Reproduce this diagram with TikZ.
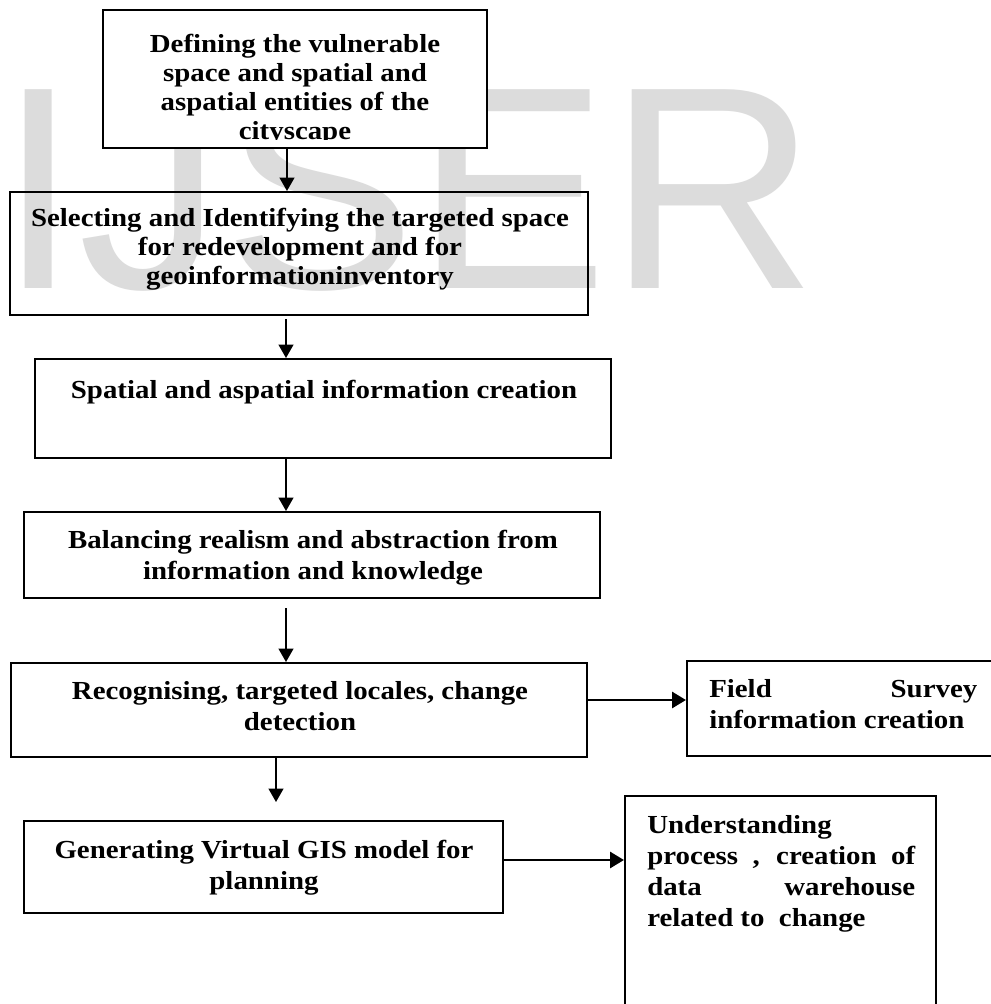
\documentclass[tikz,border=0pt]{standalone}
\usepackage{fontspec}
\newfontfamily\dfont{Liberation Serif}[FakeStretch=1.11]
\newfontfamily\wmfont{Liberation Sans}
\usetikzlibrary{fit,calc,arrows.meta}
\definecolor{wmgray}{HTML}{DCDCDC}
\begin{document}
\begin{tikzpicture}[x=0.75pt,y=-0.75pt,
  box/.style={draw, line width=1.5pt, inner sep=0pt},
  txt/.style={inner sep=0pt, font=\dfont\bfseries\fontsize{19.5}{21.75}\selectfont},
  wide/.style={font=\dfont\bfseries\fontsize{19.5}{23.25}\selectfont},
  arr/.style={line width=1.5pt, -{Triangle[length=10pt,width=11pt]}},
  harr/.style={line width=2.2pt, -{Triangle[length=10.5pt,width=12pt]}}]
\useasboundingbox (0,0) rectangle (991,1004);
\fill[white] (0,0) rectangle (991,1004);
% watermark
\node[anchor=base west, inner sep=0pt, text=wmgray,
      font=\wmfont\fontsize{216.75}{216.75}\selectfont] (wm) at (-2,288) {IJSER};
% boxes
\node[box, fill=white, fit={(103,10) (487,148)}] (b1) {};
\node[box, fit={(10,192) (588,315)}] (b2) {};
\node[box, fit={(35,359) (611,458)}] (b3) {};
\node[box, fit={(24,512) (600,598)}] (b4) {};
\node[box, fit={(11,663) (587,757)}] (b5) {};
\node[box, fit={(687,661) (1000,756)}] (b6) {};
\node[box, fit={(24,821) (503,913)}] (b7) {};
\node[box, fit={(625,796) (936,1012)}] (b8) {};
% texts
\begin{scope}
\clip (b1.north west) rectangle ($(b1.south east)+(0,-10)$);
\node[txt, align=center, anchor=north] (t1) at (295,34)
  {Defining the vulnerable\\space and spatial and\\aspatial entities of the\\cityscape};
\end{scope}
\node[txt, align=center, anchor=north] (t2) at (300,208)
  {Selecting and Identifying the targeted space\\for redevelopment and for\\geoinformationinventory};
\node[txt, align=center, anchor=north] (t3) at (324,380)
  {Spatial and aspatial information creation};
\node[txt, wide, align=center, anchor=north] (t4) at (313,530)
  {Balancing realism and abstraction from\\information and knowledge};
\node[txt, wide, align=center, anchor=north] (t5) at (300,681)
  {Recognising, targeted locales, change\\detection};
\node[txt, wide, align=left, anchor=north west] (t6) at (709,679)
  {\makebox[201pt][s]{Field Survey}\\information creation};
\node[txt, wide, align=center, anchor=north] (t7) at (264,840)
  {Generating Virtual GIS model for\\planning};
\node[txt, wide, align=left, anchor=north west] (t8) at (647,815)
  {Understanding\\\makebox[201pt][s]{process , creation of}\\\makebox[201pt][s]{data warehouse}\\related to\ \ change};
% connectors
\coordinate (c1) at (287,0);
\coordinate (c2) at (286,0);
\coordinate (c3) at (276,0);
\coordinate (r5) at (0,700);
\coordinate (r7) at (0,860);
\draw[arr] (c1 |- b1.south) -- (c1 |- b2.north);
\draw[arr] ($(c2 |- b2.south)+(0,3)$) -- (c2 |- b3.north);
\draw[arr] (c2 |- b3.south) -- (c2 |- b4.north);
\draw[arr] ($(c2 |- b4.south)+(0,9)$) -- (c2 |- b5.north);
\draw[harr] (b5.east |- r5) -- (b6.west |- r5);
\draw[arr] (c3 |- b5.south) -- ($(c3 |- b7.north)+(0,-18)$);
\draw[harr] (b7.east |- r7) -- (b8.west |- r7);
\end{tikzpicture}
\end{document}
